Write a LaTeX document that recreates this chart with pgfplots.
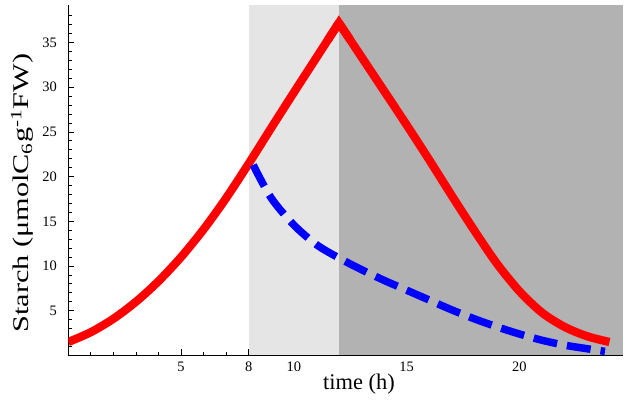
\documentclass[border=0pt]{standalone}
\usepackage{fontspec}
\setmainfont{Liberation Serif}
\usepackage{pgfplots}
\pgfplotsset{compat=1.18}
\definecolor{lightshade}{RGB}{229,229,229}
\definecolor{darkshade}{RGB}{178,178,178}

\begin{document}
\begin{tikzpicture}
\useasboundingbox (-68.3bp,-44.6bp) rectangle (561.7bp,355.4bp);
\begin{axis}[
    at={(0,0)}, anchor=south west,
    scale only axis,
    width=554.7bp, height=350.4bp,
    xmin=0, xmax=24.6,
    ymin=0, ymax=39.2,
    axis lines=left,
    axis line style={-, black, line width=0.7bp},
    xtick={5,8,10,15,20},
    ytick={5,10,...,35},
    minor xtick={1,...,24},
    minor ytick={1,...,38},
    major tick length=6bp,
    minor tick length=3.5bp,
    tick align=inside,
    every tick/.style={black, line width=0.8bp},
    tick label style={font=\fontsize{14.5}{14.5}\selectfont},
    xticklabel style={yshift=-3bp},
    yticklabel style={xshift=-8bp},
    /pgf/number format/assume math mode=true,
    xlabel={time (h)},
    xlabel style={at={(axis description cs:0.524,0)}, anchor=center,
        yshift=-29bp, font=\fontsize{22.5}{24}\selectfont},
    ylabel={\scalebox{1.35}[1]{Starch (μmolC\textsubscript{6}g\textsuperscript{-1}FW)}},
    ylabel style={at={(axis description cs:-0.083,0.463)}, anchor=center,
        font=\fontsize{22.5}{24}\selectfont},
]
% light and dark periods
\addplot[draw=none, fill=lightshade] coordinates {(8,39.2) (12,39.2)} \closedcycle;
\addplot[draw=none, fill=darkshade] coordinates {(12,39.2) (24.6,39.2)} \closedcycle;

% starch, normal day: rise, fall and the peak
\addplot[red, line width=8.3bp, smooth] coordinates {
    (0,1.5) (1,2.6) (2,4.1) (3,6.0) (4,8.3) (5,11.0) (6,14.1) (7,17.6)
    (8,21.45) (9,25.45) (10,29.4) (11,33.3) (12,37.2)
};
\addplot[red, line width=8.3bp, smooth] coordinates {
    (12,37.2) (13,33.4) (14,29.6) (15,25.8) (16,21.9) (17,17.9) (18,14.0)
    (19,10.3) (20,7.2) (21,4.8) (22,3.2) (23,2.15) (24,1.5)
};
\addplot[red, line width=8.3bp, line join=miter] coordinates {
    (11.5,35.25) (12,37.2) (12.5,35.3)
};
% starch, early dusk
\addplot[blue, line width=7.5bp, smooth, dash pattern=on 24bp off 10bp] coordinates {
    (8.2,21.3) (9,17.6) (10,14.6) (11,12.4) (12,10.9) (13,9.6) (14,8.4)
    (15,7.3) (16,6.2) (17,5.1) (18,4.1) (19,3.2) (20,2.4) (21,1.7)
    (22,1.15) (23,0.75) (23.8,0.45)
};
% axis lines run a little past the origin
\draw[black, line width=0.7bp] (axis cs:0,0) -- ++(-11bp,0);
\draw[black, line width=0.7bp] (axis cs:0,0) -- ++(0,-7bp);
\end{axis}
\end{tikzpicture}
\end{document}
